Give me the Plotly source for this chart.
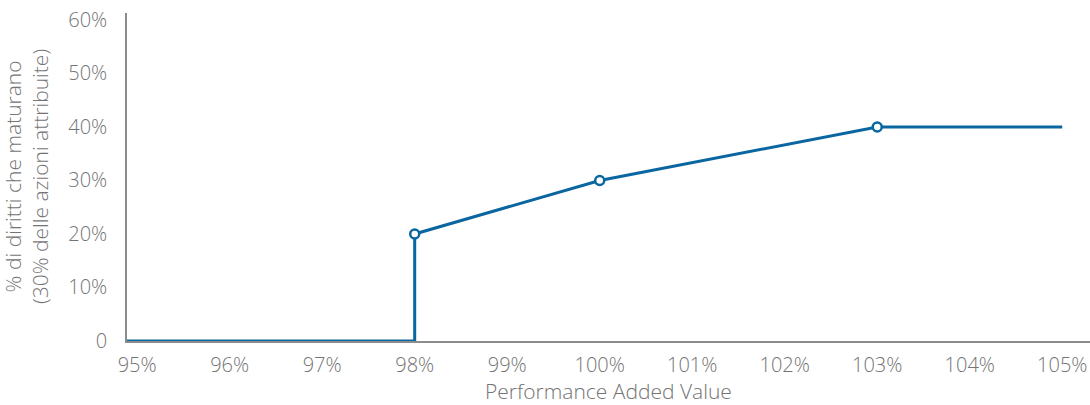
import plotly.graph_objects as go

# Data (x: Performance Added Value %, y: % di diritti che maturano)
line_x = [94, 98, 98, 100, 103, 105]
line_y = [0, 0, 20, 30, 40, 40]
marker_x = [98, 100, 103]
marker_y = [20, 30, 40]

x_ticks = [95, 96, 97, 98, 99, 100, 101, 102, 103, 104, 105]
x_tick_labels = [f"{v}%" for v in x_ticks]
y_ticks = [0, 10, 20, 30, 40, 50, 60]
y_tick_labels = ["0", "10%", "20%", "30%", "40%", "50%", "60%"]

blue = "#0a66a0"
grey = "#747474"
font_family = "Open Sans, Noto Sans, sans-serif"
fs = 20
tfs = 21

fig = go.Figure()
fig.add_trace(go.Scatter(
    x=line_x, y=line_y, mode="lines",
    line=dict(color=blue, width=3), hoverinfo="skip", showlegend=False,
))
fig.add_trace(go.Scatter(
    x=marker_x, y=marker_y, mode="markers",
    marker=dict(size=9, color="white", line=dict(color=blue, width=2.5)),
    showlegend=False, cliponaxis=False,
))

fig.update_layout(
    width=1090, height=405,
    margin=dict(l=127, r=0, t=13, b=64, autoexpand=False),
    paper_bgcolor="white", plot_bgcolor="white",
    font=dict(family=font_family, size=fs, color=grey, weight=300),
    xaxis=dict(
        range=[94.89, 105.3],
        tickvals=x_ticks, ticktext=x_tick_labels,
        showgrid=False, zeroline=False, automargin=False,
        showline=True, linecolor="#8c8c8c", linewidth=1.5,
        ticks="", ticklabelstandoff=5,
        tickfont=dict(size=fs, color=grey, weight=300),
    ),
    yaxis=dict(
        range=[0, 61.3],
        tickvals=y_ticks, ticktext=y_tick_labels,
        showgrid=False, zeroline=False, automargin=False,
        showline=True, linecolor="#8c8c8c", linewidth=1.5,
        ticks="", ticklabelstandoff=14,
        tickfont=dict(size=fs, color=grey, weight=300),
    ),
    annotations=[
        dict(text="Performance Added Value", xref="paper", yref="paper",
             x=0.5, y=-0.162, yshift=3, xanchor="center", yanchor="middle", showarrow=False,
             font=dict(size=tfs, color=grey, weight=300)),
        dict(text="% di diritti che maturano<br>(30% delle azioni attribuite)",
             xref="paper", yref="paper", x=0, y=0.5, xshift=-101,
             xanchor="center", yanchor="middle", textangle=-90, showarrow=False,
             font=dict(size=tfs, color=grey, weight=300)),
    ],
)

fig.write_html(
    "out.html",
    config={"displayModeBar": False},
    post_script="document.body.style.margin='0';document.body.style.overflow='hidden';",
)
